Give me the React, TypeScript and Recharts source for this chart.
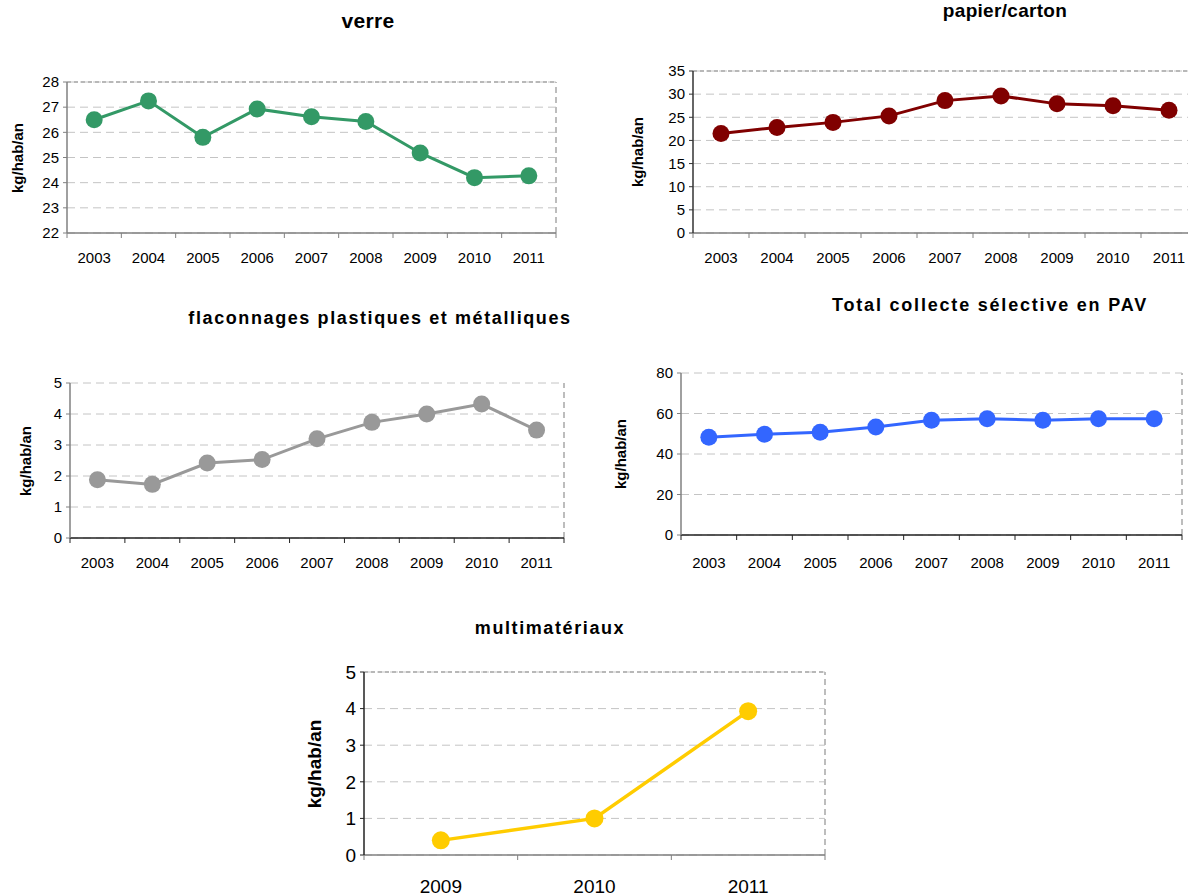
import React from 'react'
import { LineChart, Line, XAxis, YAxis, CartesianGrid, ReferenceLine } from 'recharts'

// values (kg/hab/an)
const years = ['2003', '2004', '2005', '2006', '2007', '2008', '2009', '2010', '2011']
const verre = [26.5, 27.25, 25.8, 26.93, 26.62, 26.43, 25.18, 24.2, 24.27]
const papier = [21.5, 22.8, 23.9, 25.3, 28.6, 29.6, 27.9, 27.5, 26.5]
const flaconnages = [1.88, 1.73, 2.42, 2.53, 3.2, 3.73, 4.0, 4.32, 3.48]
const total = [48.3, 49.8, 50.7, 53.3, 56.7, 57.4, 56.7, 57.4, 57.4]

const multiYears = ['2009', '2010', '2011']
const multi = [0.4, 1.0, 3.93]

const verreTicks = [22, 23, 24, 25, 26, 27, 28]
const papierTicks = [0, 5, 10, 15, 20, 25, 30, 35]
const flaconTicks = [0, 1, 2, 3, 4, 5]
const totalTicks = [0, 20, 40, 60, 80]
const multiTicks = [0, 1, 2, 3, 4, 5]

const FONT = '"Liberation Sans", Arial, Helvetica, sans-serif'
const Y_LABEL = 'kg/hab/an'

interface Rect {
  x0: number
  x1: number
  y0: number
  y1: number
}

interface PanelProps {
  title: string
  titleX: number
  titleY: number
  titleSize: number
  titleSpacing: number
  cats: string[]
  values: number[]
  ticks: number[]
  color: string
  plot: Rect
  fontSize: number
  labelX: number
  labelSize: number
  xAxisColor: string
  yAxisColor: string
  topBorder?: boolean
  dotR?: number
  strokeWidth?: number
  labelGap?: number
}

function Panel({
  title,
  titleX,
  titleY,
  titleSize,
  titleSpacing,
  cats,
  values,
  ticks,
  color,
  plot,
  fontSize,
  labelX,
  labelSize,
  xAxisColor,
  yAxisColor,
  topBorder = false,
  dotR = 8.5,
  strokeWidth = 3,
  labelGap = 20,
}: PanelProps): React.JSX.Element {
  const yAxisW = 60
  const left = plot.x0 - yAxisW
  const top = plot.y0 - 12
  const width = plot.x1 - left + 12
  const height = plot.y1 - top + 50
  const axisY = plot.y1 - top

  const n = cats.length
  const data = values.map((v, i) => ({ x: i + 0.5, v }))
  const xTicks = Array.from({ length: 2 * n + 1 }, (_, i) => i / 2)
  const yMin = ticks[0]
  const yMax = ticks[ticks.length - 1]

  const renderXTick = (p: any) => {
    const v = p.payload.value as number
    if (Number.isInteger(v)) {
      return (
        <line x1={p.x} x2={p.x} y1={axisY} y2={axisY + 5} stroke={xAxisColor} strokeWidth={1} />
      )
    }
    return (
      <text
        x={p.x}
        y={axisY + labelGap}
        dy="0.36em"
        textAnchor="middle"
        fontSize={fontSize}
        fontFamily={FONT}
        fill="#000"
      >
        {cats[Math.floor(v)]}
      </text>
    )
  }

  return (
    <>
      <div
        style={{
          position: 'absolute',
          left: titleX,
          top: titleY,
          transform: 'translate(-50%, -50%)',
          fontFamily: FONT,
          fontWeight: 'bold',
          fontSize: titleSize,
          letterSpacing: titleSpacing,
          whiteSpace: 'nowrap',
          color: '#000',
        }}
      >
        {title}
      </div>
      <div
        style={{
          position: 'absolute',
          left: labelX,
          top: (plot.y0 + plot.y1) / 2,
          transform: 'translate(-50%, -50%) rotate(-90deg)',
          fontFamily: FONT,
          fontWeight: 'bold',
          fontSize: labelSize,
          whiteSpace: 'nowrap',
          color: '#000',
        }}
      >
        {Y_LABEL}
      </div>
      <div style={{ position: 'absolute', left, top }}>
        <LineChart
          width={width}
          height={height}
          data={data}
          margin={{ top: 12, right: 12, left: 0, bottom: 0 }}
        >
          <CartesianGrid
            vertical={false}
            stroke="#c4c4c4"
            strokeDasharray="8 5"
          />
          {topBorder && (
            <ReferenceLine y={yMax} stroke="#b8b8b8" strokeWidth={2} strokeDasharray="4 3" />
          )}
          <ReferenceLine x={n} stroke="#bdbdbd" strokeWidth={2} strokeDasharray="6 4" />
          <XAxis
            dataKey="x"
            type="number"
            domain={[0, n]}
            ticks={xTicks}
            interval={0}
            tickLine={false}
            axisLine={{ stroke: xAxisColor, strokeWidth: 1.5 }}
            tick={renderXTick}
            height={50}
            allowDataOverflow
          />
          <YAxis
            type="number"
            domain={[yMin, yMax]}
            ticks={ticks}
            interval={0}
            width={yAxisW}
            tickSize={4}
            tickMargin={4}
            tickLine={{ stroke: yAxisColor }}
            axisLine={{ stroke: yAxisColor, strokeWidth: 1.5 }}
            tick={{ fill: '#000', fontSize, fontFamily: FONT }}
            allowDataOverflow
          />
          <Line
            type="linear"
            dataKey="v"
            stroke={color}
            strokeWidth={strokeWidth}
            dot={{ r: dotR, fill: color, stroke: color, strokeWidth: 0 }}
            activeDot={false}
            isAnimationActive={false}
          />
        </LineChart>
      </div>
    </>
  )
}

export default function App(): React.JSX.Element {
  return (
    <div
      style={{
        position: 'absolute',
        left: 0,
        top: 0,
        width: 1188,
        height: 896,
        overflow: 'hidden',
        background: '#fff',
      }}
    >
      <Panel
        title="verre"
        titleX={368}
        titleY={21}
        titleSize={21}
        titleSpacing={0.3}
        cats={years}
        values={verre}
        ticks={verreTicks}
        color="#339966"
        plot={{ x0: 67, x1: 556, y0: 82, y1: 233 }}
        fontSize={15}
        labelX={17}
        labelSize={15}
        xAxisColor="#808080"
        yAxisColor="#808080"
        topBorder
        labelGap={25}
      />
      <Panel
        title="papier/carton"
        titleX={1005}
        titleY={11}
        titleSize={19}
        titleSpacing={0.3}
        cats={years}
        values={papier}
        ticks={papierTicks}
        color="#800000"
        plot={{ x0: 693, x1: 1197, y0: 71, y1: 233 }}
        fontSize={15}
        labelX={637}
        labelSize={15}
        xAxisColor="#808080"
        yAxisColor="#333333"
        topBorder
        labelGap={25}
      />
      <Panel
        title="flaconnages plastiques et métalliques"
        titleX={380}
        titleY={318}
        titleSize={18}
        titleSpacing={1.6}
        cats={years}
        values={flaconnages}
        ticks={flaconTicks}
        color="#999999"
        plot={{ x0: 70, x1: 564, y0: 383, y1: 538 }}
        fontSize={15}
        labelX={25}
        labelSize={15}
        xAxisColor="#222222"
        yAxisColor="#808080"
        labelGap={25}
      />
      <Panel
        title="Total collecte sélective en PAV"
        titleX={990}
        titleY={305}
        titleSize={18}
        titleSpacing={1.8}
        cats={years}
        values={total}
        ticks={totalTicks}
        color="#3366ff"
        plot={{ x0: 681, x1: 1182, y0: 373, y1: 535 }}
        fontSize={15}
        labelX={620}
        labelSize={15}
        xAxisColor="#222222"
        yAxisColor="#808080"
        labelGap={28}
      />
      <Panel
        title="multimatériaux"
        titleX={550}
        titleY={628}
        titleSize={18}
        titleSpacing={1.6}
        cats={multiYears}
        values={multi}
        ticks={multiTicks}
        color="#ffcc00"
        plot={{ x0: 364, x1: 825, y0: 672, y1: 855 }}
        fontSize={19}
        labelX={315}
        labelSize={19}
        xAxisColor="#808080"
        yAxisColor="#222222"
        topBorder
        dotR={9}
        strokeWidth={3.5}
        labelGap={31}
      />
    </div>
  )
}
